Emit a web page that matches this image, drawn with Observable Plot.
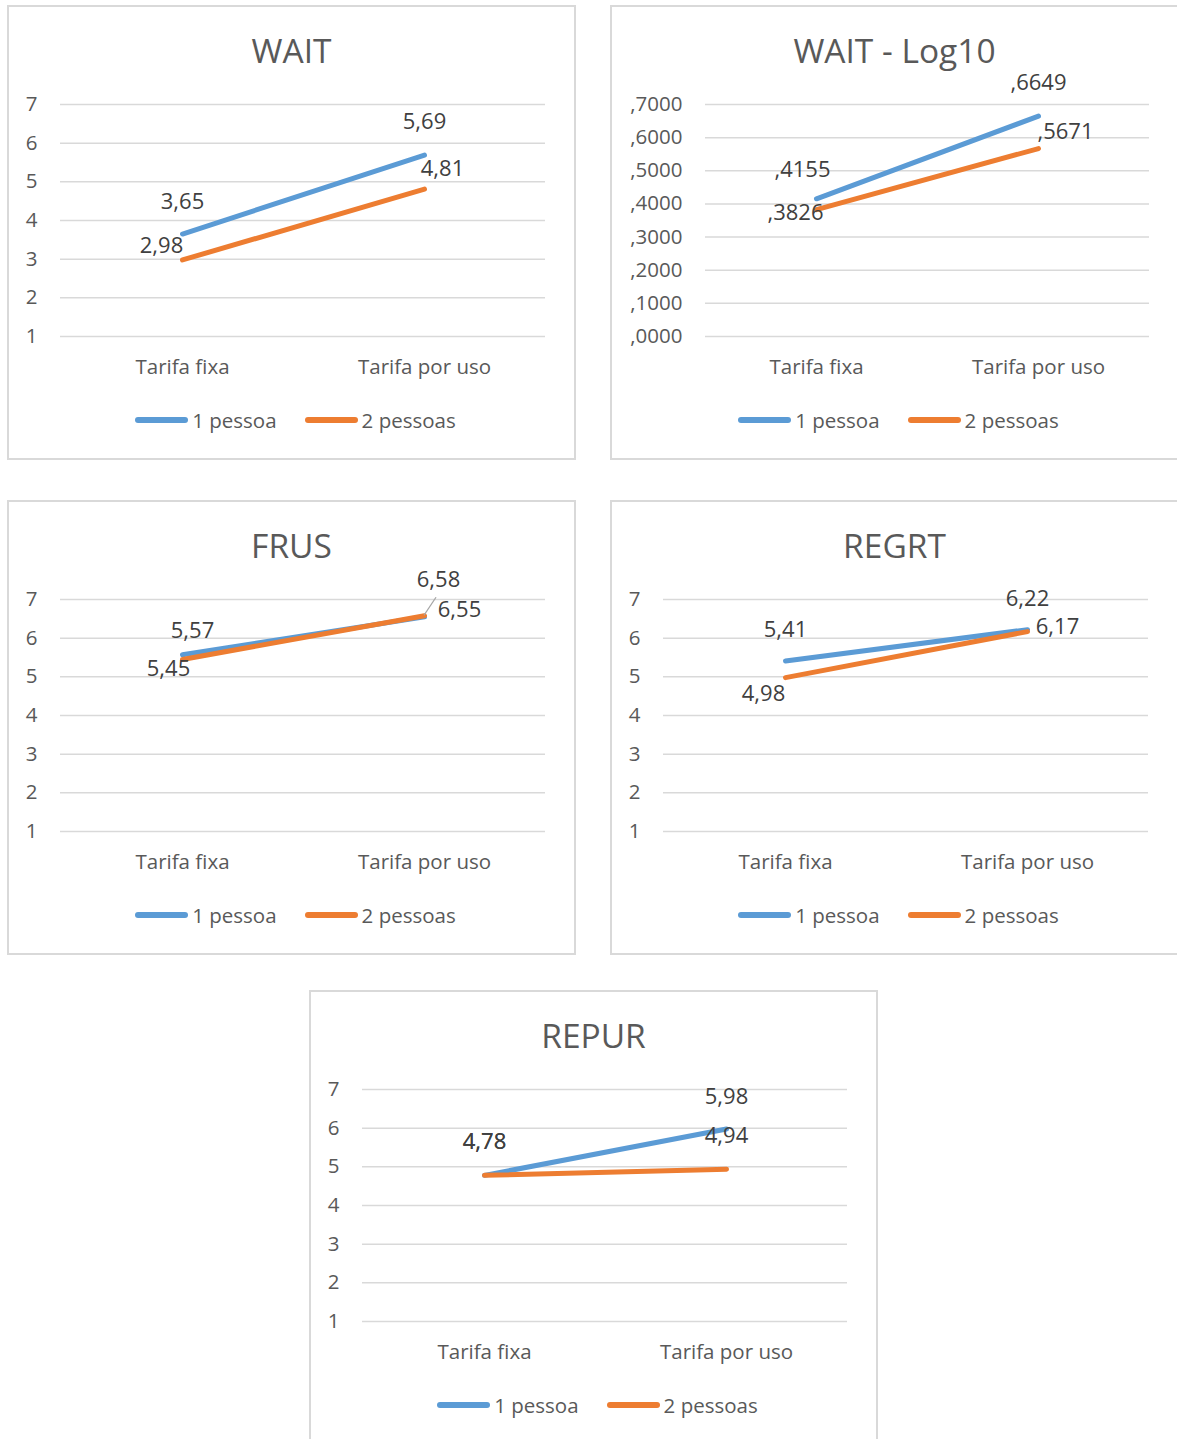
<!DOCTYPE html>
<html><head><meta charset="utf-8">
<script src="https://cdn.jsdelivr.net/npm/d3@7"></script>
<script src="https://cdn.jsdelivr.net/npm/@observablehq/plot@0.6"></script>
<style>
body{margin:0;background:#fff;font-family:"Open Sans",sans-serif;}
#root{position:relative;width:1177px;height:1439px;overflow:hidden;background:#fff;}
.panel{position:absolute;width:567px;height:453px;outline:2px solid #d9d9d9;outline-offset:-1px;background:#fff;}
.panel svg{position:absolute;left:0;top:0;overflow:visible;}
.title{position:absolute;left:0;width:100%;text-align:center;font-size:33.5px;color:#595959;line-height:40px;height:40px;}
.legend{position:absolute;left:0;width:100%;display:flex;justify-content:center;align-items:center;font-size:20.5px;color:#595959;line-height:26px;height:26px;padding-left:8px;box-sizing:border-box;}
.sw{display:inline-block;width:53px;height:5.5px;border-radius:3px;margin-right:4px;}
.item{display:flex;align-items:center;}
.item + .item{margin-left:28px;}
</style>
</head><body><div id="root"></div>
<script>
// ---------- data ----------
const categories = ["Tarifa fixa", "Tarifa por uso"];
const seriesNames = ["1 pessoa", "2 pessoas"];
const seriesColors = ["#5B9BD5", "#ED7D31"];

const waitOne = [3.65, 5.69];
const waitTwo = [2.98, 4.81];
const logOne = [0.4155, 0.6649];
const logTwo = [0.3826, 0.5671];
const frusOne = [5.57, 6.55];
const frusTwo = [5.45, 6.58];
const regrtOne = [5.41, 6.22];
const regrtTwo = [4.98, 6.17];
const repurOne = [4.78, 5.98];
const repurTwo = [4.78, 4.94];

const scaleTicks = [1, 2, 3, 4, 5, 6, 7];
const logTicks = [0, 0.1, 0.2, 0.3, 0.4, 0.5, 0.6, 0.7];

const titles = ["WAIT", "WAIT - Log10", "FRUS", "REGRT", "REPUR"];

// ---------- formatting ----------
const ptLocale = d3.formatLocale({decimal: ",", thousands: ".", grouping: [3], currency: ["", ""]});
const f2 = ptLocale.format(".2f");
const f4 = v => ptLocale.format(".4f")(v).replace(/^0/, "");
const fInt = ptLocale.format("d");

// ---------- panels (layout config) ----------
const panels = [
  {title: titles[0], one: waitOne, two: waitTwo, ticks: scaleTicks, domain: [1, 7], tickFmt: fInt, labFmt: f2,
   left: 8, top: 6, ml: 52,
   off: [[0, -32], [0, -33], [-21, -14], [18, -20]]},
  {title: titles[1], one: logOne, two: logTwo, ticks: logTicks, domain: [0, 0.7], tickFmt: f4, labFmt: f4,
   left: 611, top: 6, ml: 94,
   off: [[-14, -29], [0, -33], [-21, 3], [27, -17]]},
  {title: titles[2], one: frusOne, two: frusTwo, ticks: scaleTicks, domain: [1, 7], tickFmt: fInt, labFmt: f2,
   left: 8, top: 501, ml: 52,
   off: [[10, -24], [35, -7], [-14, 10], [14, -36]], leader: true},
  {title: titles[3], one: regrtOne, two: regrtTwo, ticks: scaleTicks, domain: [1, 7], tickFmt: fInt, labFmt: f2,
   left: 611, top: 501, ml: 52,
   off: [[0, -31], [0, -31], [-22, 16], [30, -5]]},
  {title: titles[4], one: repurOne, two: repurTwo, ticks: scaleTicks, domain: [1, 7], tickFmt: fInt, labFmt: f2,
   left: 310, top: 991, ml: 52,
   off: [[0, -33], [0, -32], [0, -33], [0, -33]]}
];

const root = document.getElementById("root");
const PW = 567, SVGH = 400, MT = 98, MB = 70;

panels.forEach(p => {
  const div = document.createElement("div");
  div.className = "panel";
  div.style.left = p.left + "px";
  div.style.top = p.top + "px";
  root.appendChild(div);

  const rows = [];
  [p.one, p.two].forEach((vals, si) => {
    vals.forEach((v, ci) => rows.push({series: seriesNames[si], cat: categories[ci], value: v, si, ci}));
  });

  const labelMarks = rows.map((r, i) => Plot.text([r], {
    x: "cat", y: "value", text: d => p.labFmt(d.value),
    dx: p.off[i][0], dy: p.off[i][1],
    fontSize: 22, fill: "#404040", textAnchor: "middle"
  }));

  const marks = [
    Plot.gridY(p.ticks, {stroke: "#d9d9d9", strokeOpacity: 1, strokeWidth: 1.5}),
    Plot.axisY(p.ticks, {tickSize: 0, tickPadding: 23, tickFormat: p.tickFmt, fontSize: 20.5, fill: "#595959"}),
    Plot.axisX({tickSize: 0, tickPadding: 23, fontSize: 20.5, fill: "#595959"}),
    Plot.line(rows, {x: "cat", y: "value", z: "series", stroke: "series", strokeWidth: 5, strokeLinecap: "round", strokeLinejoin: "round"}),
    ...labelMarks
  ];

  if (p.leader) {
    const r = rows[3];
    marks.push((index, scales) => {
      const ns = "http://www.w3.org/2000/svg";
      const x0 = scales.x(r.cat), y0 = scales.y(r.value);
      const l = document.createElementNS(ns, "line");
      l.setAttribute("x1", x0);
      l.setAttribute("y1", y0);
      l.setAttribute("x2", x0 + 12);
      l.setAttribute("y2", y0 - 18);
      l.setAttribute("stroke", "#a6a6a6");
      l.setAttribute("stroke-width", 1.3);
      return l;
    });
  }

  const chart = Plot.plot({
    width: PW, height: SVGH,
    marginLeft: p.ml, marginRight: PW - p.ml - (p.ml === 94 ? 444 : 485),
    marginTop: MT, marginBottom: MB,
    style: {fontFamily: "Open Sans", fontSize: "20.5px", color: "#595959", background: "transparent"},
    x: {type: "point", domain: categories, padding: 0.5, label: null},
    y: {domain: p.domain, label: null},
    color: {domain: seriesNames, range: seriesColors},
    marks
  });
  div.appendChild(chart);

  const t = document.createElement("div");
  t.className = "title";
  t.textContent = p.title;
  t.style.top = (44 - 20) + "px";
  div.appendChild(t);

  const lg = document.createElement("div");
  lg.className = "legend";
  lg.style.top = (414 - 13) + "px";
  seriesNames.forEach((s, i) => {
    const it = document.createElement("span");
    it.className = "item";
    const sw = document.createElement("span");
    sw.className = "sw";
    sw.style.background = seriesColors[i];
    const tx = document.createElement("span");
    tx.textContent = s;
    it.appendChild(sw); it.appendChild(tx);
    lg.appendChild(it);
  });
  div.appendChild(lg);
});
</script>
</body></html>
